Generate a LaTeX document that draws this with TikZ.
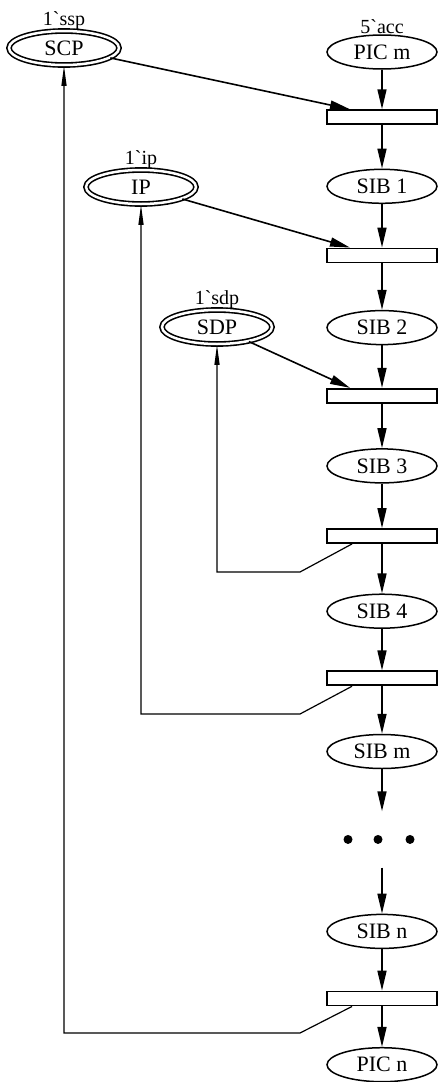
\documentclass[tikz,border=0pt]{standalone}
\usepackage{fontspec}
\setmainfont{Liberation Serif}
\usetikzlibrary{arrows.meta, positioning, shapes.geometric}

\begin{document}
\begin{tikzpicture}[
    x=1pt, y=-1pt,
    node distance=45pt,
    place/.style={ellipse, draw, line width=1.5pt, minimum width=110pt, minimum height=34pt, inner sep=0pt, font=\fontsize{22}{24}\selectfont},
    resplace/.style={place, double, double distance=2.5pt, line width=1.6pt, minimum width=110pt, minimum height=34pt},
    trans/.style={rectangle, draw, line width=1.8pt, minimum width=110pt, minimum height=14pt, inner sep=0pt},
    marking/.style={font=\fontsize{20}{22}\selectfont, inner sep=0pt},
    arrow/.style={-{Triangle[length=20pt, width=9pt]}, line width=1.6pt},
    back/.style={-{Triangle[length=20pt, width=5pt]}, line width=1.2pt},
]
\useasboundingbox (0,0) rectangle (439,1082);

% ===== MAIN CHAIN =====
\node[place, label={[marking]above:5\textasciigrave acc}] (picm) at (382,52) {PIC m};
\node[trans, below=39.5pt of picm] (t1) {};
\node[place, below=43.5pt of t1] (sib1) {SIB 1};
\node[trans, below=43.5pt of sib1] (t2) {};
\node[place, below=46.5pt of t2] (sib2) {SIB 2};
\node[trans, below=42.5pt of sib2] (t3) {};
\node[place, below=44.5pt of t3] (sib3) {SIB 3};
\node[trans, below=44.5pt of sib3] (t4) {};
\node[place, below=49.5pt of t4] (sib4) {SIB 4};
\node[trans, below=41.5pt of sib4] (t5) {};
\node[place, below=47.5pt of t5] (sibm) {SIB m};
\node[minimum width=80pt, minimum height=56pt, below=42pt of sibm] (dots) {};
\node[place, below=46pt of dots] (sibn) {SIB n};
\node[trans, below=41.5pt of sibn] (t6) {};
\node[place, below=40.5pt of t6] (picn) {PIC n};

\foreach \dx in {-34,-4,28}
    \fill ([xshift=\dx pt]dots.center) circle (4.5pt);

\foreach \a/\b in {picm/t1, t1/sib1, sib1/t2, t2/sib2, sib2/t3, t3/sib3, sib3/t4, t4/sib4, sib4/t5, t5/sibm, sibm/dots, dots/sibn, sibn/t6, t6/picn}
    \draw[arrow] (\a) -- (\b);

% ===== RESOURCE PLACES =====
\node[resplace, label={[marking]above:1\textasciigrave ssp}] (scp) at (64,48) {SCP};
\node[resplace, label={[marking]above:1\textasciigrave ip}] (ip) at (141,187) {IP};
\node[resplace, label={[marking]above:1\textasciigrave sdp}] (sdp) at (217,327) {SDP};

\draw[arrow] (scp) -- ([xshift=-32pt]t1.north);
\draw[arrow] (ip) -- ([xshift=-32pt]t2.north);
\draw[arrow] (sdp) -- ([xshift=-32pt]t3.north);

% ===== RELEASE ARCS =====
\coordinate (r4) at (300,572);
\coordinate (r5) at (300,714);
\coordinate (r6) at (300,1033);

\draw[back] ([xshift=-30pt]t4.south) -- (r4) -| (sdp.south);
\draw[back] ([xshift=-30pt]t5.south) -- (r5) -| (ip.south);
\draw[back] ([xshift=-30pt]t6.south) -- (r6) -| (scp.south);

\end{tikzpicture}
\end{document}
